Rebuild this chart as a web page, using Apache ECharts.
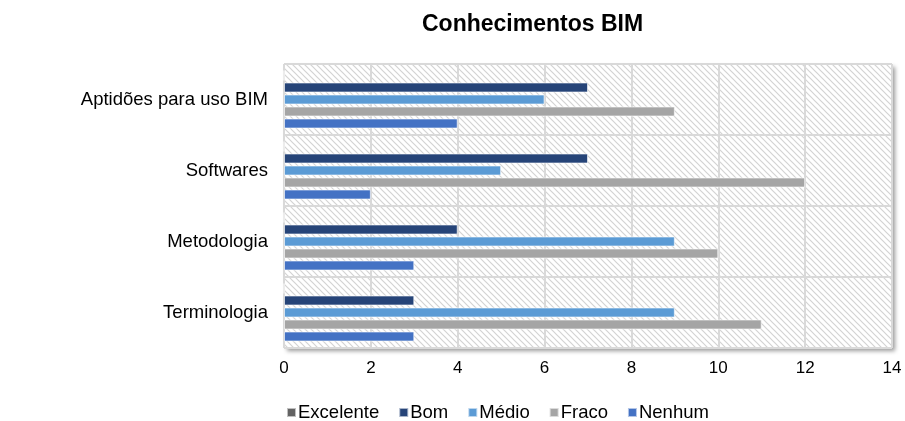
<!DOCTYPE html>
<html>
<head>
<meta charset="utf-8">
<script src="https://cdn.jsdelivr.net/npm/echarts@6/dist/echarts.min.js"></script>
<style>
  html, body { margin: 0; padding: 0; background: #fff; }
  #chart { width: 905px; height: 421px; }
</style>
</head>
<body>
<div id="chart"></div>
<script>
// dados do gráfico
let categorias = ['Terminologia', 'Metodologia', 'Softwares', 'Aptidões para uso BIM'];
let excelente = [0, 0, 0, 0];
let bom = [3, 4, 7, 7];
let medio = [9, 9, 5, 6];
let fraco = [11, 10, 12, 9];
let nenhum = [3, 3, 2, 4];
let legendaNomes = ['Excelente', 'Bom', 'Médio', 'Fraco', 'Nenhum'];

// padrão tracejado do fundo
let cv = document.createElement('canvas');
cv.width = 6; cv.height = 6;
let ctx = cv.getContext('2d');
ctx.fillStyle = '#ffffff';
ctx.fillRect(0, 0, 6, 6);
ctx.strokeStyle = '#d3d3d3';
ctx.lineWidth = 1.2;
ctx.beginPath();
ctx.moveTo(-1, -1); ctx.lineTo(7, 7);
ctx.moveTo(-4, 2); ctx.lineTo(4, 10);
ctx.moveTo(2, -4); ctx.lineTo(10, 4);
ctx.stroke();

var myChart = echarts.init(document.getElementById('chart'));

function serie(nome, dados, cor) {
  return {
    name: nome,
    type: 'bar',
    data: dados,
    barWidth: 10,
    barGap: '20%',
    itemStyle: { color: cor, borderColor: 'rgba(255,255,255,0.6)', borderWidth: 1 }
  };
}

var option = {
  animation: false,
  textStyle: { fontFamily: 'Liberation Sans, Arial, sans-serif' },
  title: {
    text: 'Conhecimentos BIM',
    left: 417,
    top: 8,
    textStyle: { fontSize: 23, fontWeight: 'bold', color: '#000', fontFamily: 'Liberation Sans, Arial, sans-serif' }
  },
  legend: {
    data: legendaNomes,
    left: 281,
    top: 398,
    itemWidth: 9,
    itemHeight: 9,
    itemGap: 19,
    icon: 'rect',
    textStyle: { fontSize: 18.5, color: '#000', padding: [0, 0, 0, -3] }
  },
  grid: {
    left: 284,
    right: 13,
    top: 64,
    bottom: 73,
    show: true,
    borderWidth: 0,
    backgroundColor: { image: cv, repeat: 'repeat' },
    shadowColor: 'rgba(0,0,0,0.4)',
    shadowBlur: 4,
    shadowOffsetX: 3,
    shadowOffsetY: 3
  },
  xAxis: {
    type: 'value',
    min: 0,
    max: 14,
    interval: 2,
    axisLine: { show: false },
    axisTick: { show: false },
    axisLabel: { fontSize: 17, color: '#000', margin: 12 },
    splitLine: { lineStyle: { color: '#d9d9d9', width: 2 } }
  },
  yAxis: {
    type: 'category',
    data: categorias,
    axisLine: { show: false },
    axisTick: { show: false },
    axisLabel: { fontSize: 18.5, color: '#000', margin: 16 },
    splitLine: { show: true, lineStyle: { color: '#d9d9d9', width: 2 } }
  },
  series: [
    serie('Excelente', excelente, '#636363'),
    serie('Bom', bom, '#264478'),
    serie('Médio', medio, '#5B9BD5'),
    serie('Fraco', fraco, '#A5A5A5'),
    serie('Nenhum', nenhum, '#4472C4')
  ]
};

myChart.setOption(option);
</script>
</body>
</html>
